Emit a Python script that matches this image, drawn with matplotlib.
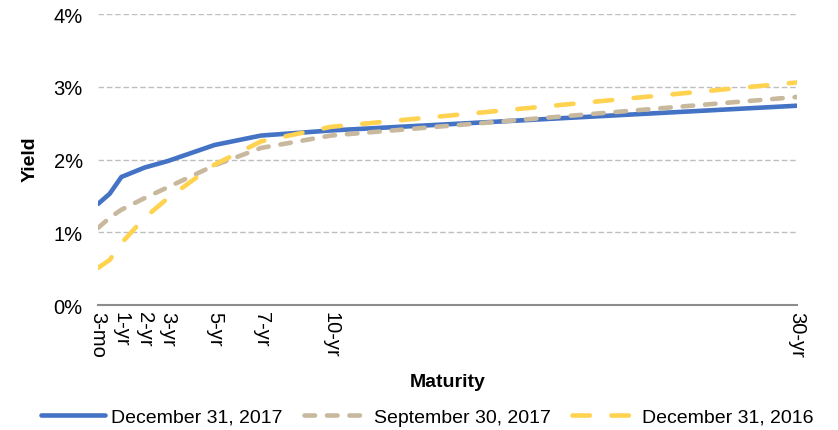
import numpy as np
import matplotlib
matplotlib.use("Agg")
import matplotlib.pyplot as plt
from matplotlib.ticker import FuncFormatter

plt.rcParams['font.family'] = ['Liberation Sans', 'DejaVu Sans']

# maturity positions (years) and labels
mat_x = [0, 0.5, 1, 2, 3, 5, 7, 10, 30]
tick_x = [0, 1, 2, 3, 5, 7, 10, 30]
tick_labels = ["3-mo", "1-yr", "2-yr", "3-yr", "5-yr", "7-yr", "10-yr", "30-yr"]

# yields in percent
dec_2017 = [1.39, 1.53, 1.76, 1.89, 1.98, 2.20, 2.33, 2.40, 2.74]
sep_2017 = [1.06, 1.20, 1.31, 1.47, 1.62, 1.92, 2.16, 2.33, 2.86]
dec_2016 = [0.51, 0.62, 0.85, 1.20, 1.47, 1.93, 2.25, 2.45, 3.06]

fig = plt.figure(figsize=(8.38, 4.31), dpi=100)
ax = fig.add_axes([0.117, 0.290, 0.834, 0.675])

lw = 3.3
ax.plot(mat_x, dec_2017, color="#4472C4", lw=lw, solid_capstyle="round",
        label="December 31, 2017", zorder=3)
ax.plot(mat_x, sep_2017, color="#C8B89E", lw=lw, dashes=(2.3, 2.6),
        dash_capstyle="round", label="September 30, 2017", zorder=3)
ax.plot(mat_x, dec_2016, color="#FFD24F", lw=lw, dashes=(3.8, 4.7),
        dash_capstyle="round", label="December 31, 2016", zorder=3)

ax.set_xlim(0, 30)
ax.set_ylim(0, 4)
ax.set_yticks([0, 1, 2, 3, 4])
ax.yaxis.set_major_formatter(FuncFormatter(lambda v, p: "%d%%" % v))
for g in [1, 2, 3, 4]:
    ax.axhline(g, color="#BFBFBF", lw=1, ls=(0, (4, 2)), zorder=1)

ax.set_xticks(tick_x)
ax.set_xticklabels(tick_labels, rotation=-90, va="top", ha="center")
ax.tick_params(axis="both", length=0, labelsize=14.5)
ax.tick_params(axis="x", pad=4)
ax.tick_params(axis="y", pad=11)

for s in ["top", "right", "left"]:
    ax.spines[s].set_visible(False)
ax.spines["bottom"].set_color("#8C8C8C")
ax.spines["bottom"].set_linewidth(1.5)

fig.text(0.534, 0.113, "Maturity", ha="center", va="center",
         fontsize=14, fontweight="bold")
fig.text(0.036, 0.63, "Yield", ha="center", va="center", rotation=90,
         fontsize=14, fontweight="bold")

fig.legend(loc="center", bbox_to_anchor=(0.51, 0.03), ncol=3, frameon=False,
           fontsize=14, handlelength=3.3, handletextpad=0.3,
           columnspacing=1.1)

fig.savefig("out.png", dpi=100)
